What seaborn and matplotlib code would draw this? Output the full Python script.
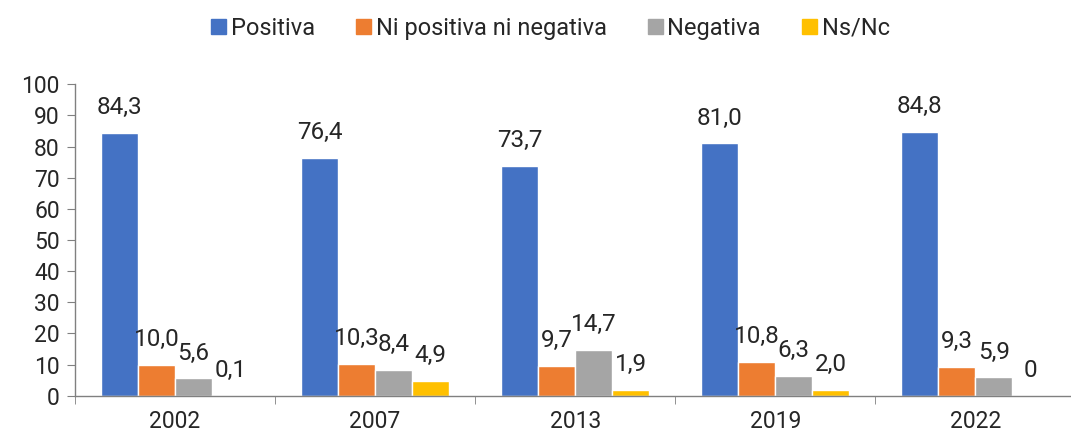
import pandas as pd
import numpy as np
import matplotlib
matplotlib.use("Agg")
import matplotlib.pyplot as plt
import seaborn as sns

years = ["2002", "2007", "2013", "2019", "2022"]
categories = ["Positiva", "Ni positiva ni negativa", "Negativa", "Ns/Nc"]
positiva = [84.3, 76.4, 73.7, 81.0, 84.8]
neutra = [10.0, 10.3, 9.7, 10.8, 9.3]
negativa = [5.6, 8.4, 14.7, 6.3, 5.9]
nsnc = [0.1, 4.9, 1.9, 2.0, 0.0]
colors = ["#4472C4", "#ED7D31", "#A5A5A5", "#FFC000"]

rows = []
for cat, vals in zip(categories, [positiva, neutra, negativa, nsnc]):
    for y, v in zip(years, vals):
        rows.append({"year": y, "cat": cat, "value": v})
df = pd.DataFrame(rows)

sns.set_style("white")
plt.rcParams["font.family"] = ["Roboto", "DejaVu Sans"]

fig = plt.figure(figsize=(10.71, 4.34), dpi=100)
ax = fig.add_axes([0.07, 0.088, 0.934, 0.718])

sns.barplot(data=df, x="year", y="value", hue="cat", palette=colors,
            width=0.74, gap=0, saturation=1, ax=ax, legend=False)

def fmt(v):
    if v == 0:
        return "0"
    return f"{v:.1f}".replace(".", ",")

# etiquetas encima de cada barra
for cont, vals in zip(ax.containers, [positiva, neutra, negativa, nsnc]):
    ax.bar_label(cont, labels=[fmt(v) for v in vals], padding=10, fontsize=17.5)

ax.set_ylim(0, 100)
ax.set_yticks(range(0, 101, 10))
ax.set_xlim(-0.5, 4.5)
ax.set_xlabel("")
ax.set_ylabel("")
ax.tick_params(axis="y", labelsize=16.5, length=6, direction="out", color="#808080", left=True, pad=5)
ax.tick_params(axis="x", which="major", labelsize=16.5, length=0, pad=10)
ax.set_xticks(np.arange(-0.5, 5, 1), minor=True)
ax.tick_params(axis="x", which="minor", length=6, direction="out", color="#808080", bottom=True)
for s in ["top", "right"]:
    ax.spines[s].set_visible(False)
for s in ["left", "bottom"]:
    ax.spines[s].set_color("#808080")
    ax.spines[s].set_linewidth(1)

handles = [plt.Rectangle((0, 0), 1, 1, color=c) for c in colors]
fig.legend(handles, categories, loc="center", bbox_to_anchor=(0.514, 0.935), ncol=4,
           frameon=False, fontsize=17, handlelength=0.62, handleheight=0.62,
           handletextpad=0.2, columnspacing=1.75)

plt.savefig("out.png", dpi=100)
